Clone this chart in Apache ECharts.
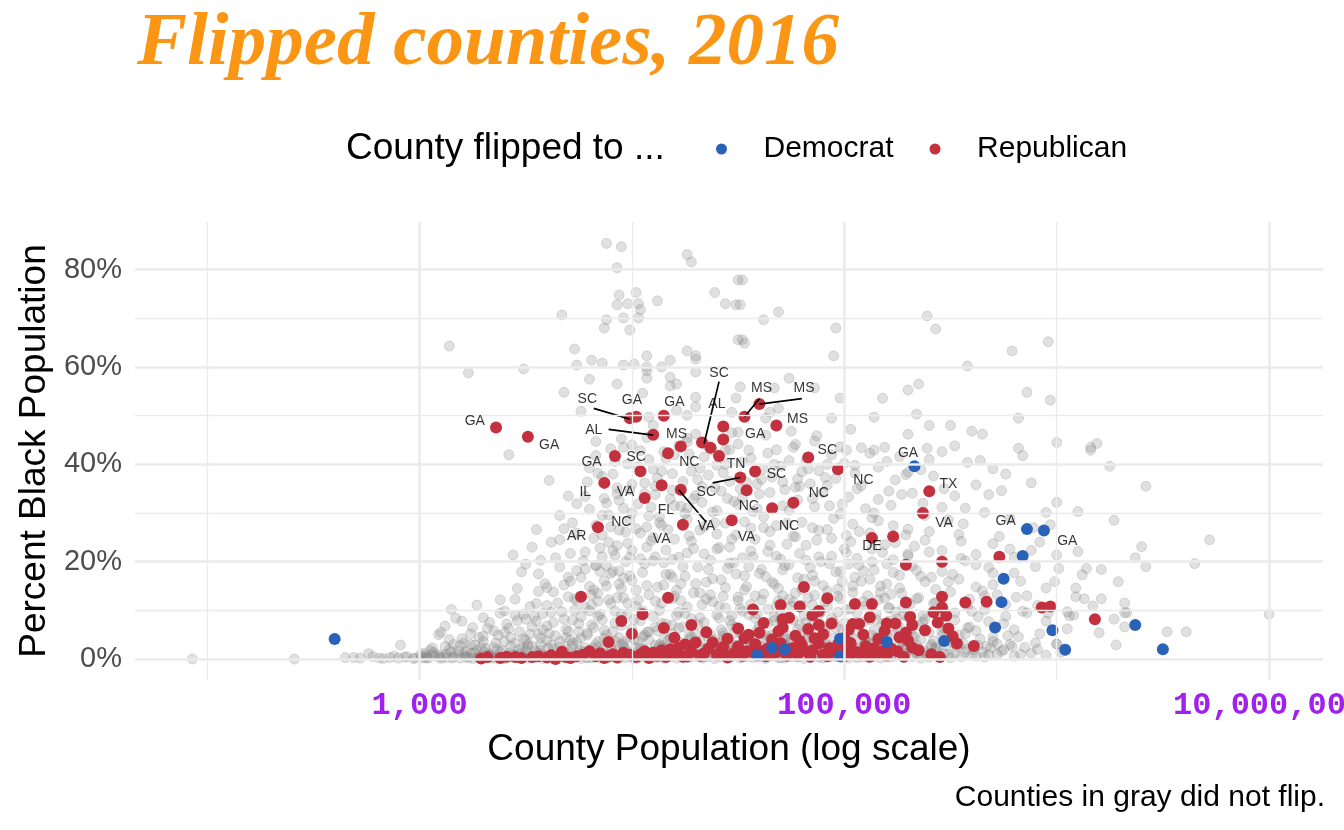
<!DOCTYPE html>
<html><head><meta charset="utf-8">
<script src="https://cdn.jsdelivr.net/npm/echarts@6/dist/echarts.min.js"></script>
<style>html,body{margin:0;padding:0;background:#fff;overflow:hidden}#c{width:1344px;height:830px}</style>
</head><body><div id="c"></div>
<script>
// Each point: [log10(county population), percent Black population]
const grayPts = [
[1.93,0.0],[2.41,0.0],[2.65,0.3],[2.69,0.3],[2.72,0.2],[2.76,1.1],[2.78,0.5],[2.81,0.2],[2.83,0.1],[2.86,0.3],[2.88,0.6],[2.90,0.2],[2.91,2.9],[2.93,0.4],[2.94,0.5],[2.97,0.1],[2.98,0.2],[3.01,0.4],[3.03,0.7],[3.04,0.2],[3.05,1.8],[3.06,2.3],[3.07,0.6],[3.09,5.0],[3.10,0.1],[3.10,5.5],[3.13,0.3],[3.15,10.2],[3.16,0.5],[3.16,3.0],[3.19,0.2],[3.20,4.2],[3.22,0.4],[3.22,1.6],[3.25,0.1],[3.28,0.6],[3.31,0.3],[3.34,0.2],[3.35,5.8],[3.37,0.5],[3.40,0.1],[3.42,42.0],[3.43,0.4],[3.46,0.3],[3.49,0.6],[3.49,9.2],[3.52,0.2],[3.55,0.4],[3.58,0.1],[3.60,6.8],[3.61,0.5],[3.61,36.7],[3.64,0.3],[3.67,0.2],[3.70,0.6],[3.71,21.7],[3.73,0.4],[3.76,0.1],[3.79,0.3],[3.81,11.1],[3.82,0.5],[3.83,19.2],[3.85,0.2],[3.85,9.2],[3.88,0.4],[3.88,19.2],[3.91,0.6],[3.91,18.0],[3.93,12.6],[3.94,0.1],[3.94,15.4],[3.95,9.2],[3.97,0.3],[3.99,17.1],[4.00,0.5],[4.00,22.3],[4.03,0.2],[4.06,0.4],[4.09,0.6],[4.09,24.3],[4.11,21.0],[4.12,0.3],[4.15,0.1],[4.18,0.5],[4.19,16.8],[4.21,0.2],[4.24,0.4],[4.27,0.3],[4.30,0.6],[4.33,0.2],[4.36,0.5],[4.39,0.1],[4.42,0.4],[4.45,0.3],[4.48,0.6],[4.51,0.2],[4.54,0.5],[4.57,0.3],[4.60,0.4],[4.63,0.1],[4.66,0.6],[4.69,0.3],[4.72,0.2],[4.75,0.5],[4.78,0.4],[4.81,0.1],[4.84,0.3],[4.87,0.6],[4.90,0.2],[4.93,0.4],[4.96,0.5],[4.99,0.3],[5.02,0.2],[5.05,0.6],[5.08,0.4],[5.11,0.3],[5.14,0.5],[5.17,0.2],[5.20,0.4],[5.24,0.6],[5.28,0.3],[5.32,0.5],[5.36,0.2],[5.40,0.4],[5.45,0.6],[5.50,0.3],[5.55,0.5],[5.60,0.8],[5.66,0.4],[5.72,1.0],[5.80,0.6],[5.88,1.2],[5.95,0.8],
[3.02,1.2],[3.09,0.9],[3.15,1.5],[3.21,1.1],[3.27,1.8],[3.33,1.0],[3.38,1.4],[3.44,0.9],[3.50,1.7],[3.56,1.2],[3.62,1.0],[3.68,1.6],[3.74,1.3],[3.80,0.9],[3.86,1.8],[3.92,1.1],[3.98,1.5],[4.04,0.9],[4.10,1.7],[4.16,1.2],[4.22,1.0],[4.28,1.9],[4.34,1.3],[4.40,1.0],[4.46,1.6],[4.52,1.2],[4.58,1.9],[4.64,1.1],[4.70,1.5],[4.76,1.0],[4.82,1.8],[4.88,1.3],[4.94,1.1],[5.00,1.7],[5.06,1.2],[5.12,1.9],[5.18,1.4],[5.25,1.1],[5.31,1.8],[5.38,1.3],[5.44,1.6],[5.52,1.2],[5.58,2.0],[5.65,1.5],[5.75,1.9],[5.85,2.4],
[3.12,2.6],[3.24,3.0],[3.35,2.4],[3.45,3.3],[3.53,2.7],[3.60,3.8],[3.66,2.5],[3.72,3.2],[3.78,2.3],[3.84,3.6],[3.90,2.8],[3.96,3.4],[4.02,2.4],[4.08,3.9],[4.14,2.7],[4.20,3.3],[4.26,2.5],[4.32,3.7],[4.38,2.9],[4.44,3.5],[4.50,2.6],[4.56,3.2],[4.62,3.9],[4.68,2.8],[4.74,3.4],[4.80,2.4],[4.86,3.6],[4.92,2.9],[4.98,3.3],[5.04,2.5],[5.10,3.8],[5.16,3.0],[5.22,2.6],[5.28,3.5],[5.34,2.9],[5.42,3.7],[5.48,2.7],[5.56,3.2],[5.63,2.8],[5.70,3.6],[5.78,3.0],[5.90,3.3],[6.00,3.1],
[3.28,4.5],[3.40,5.5],[3.49,4.2],[3.58,6.0],[3.64,4.8],[3.70,5.7],[3.76,4.3],[3.82,6.5],[3.88,5.0],[3.94,4.4],[4.00,6.2],[4.06,4.9],[4.12,5.8],[4.18,4.3],[4.24,6.6],[4.30,5.1],[4.36,4.5],[4.42,6.0],[4.48,5.3],[4.54,4.6],[4.60,6.8],[4.66,5.0],[4.72,4.2],[4.78,6.1],[4.84,5.4],[4.90,4.7],[4.96,6.4],[5.02,5.2],[5.08,4.4],[5.14,6.0],[5.20,5.0],[5.26,6.6],[5.33,4.6],[5.40,5.5],[5.47,6.3],[5.54,4.9],[5.62,5.8],[5.70,4.5],[5.80,6.0],[5.92,5.2],[6.05,6.2],
[3.33,7.5],[3.45,9.0],[3.55,7.8],[3.62,9.6],[3.68,8.2],[3.75,7.3],[3.80,9.9],[3.86,8.1],[3.92,7.4],[3.98,9.3],[4.04,7.9],[4.10,8.8],[4.16,7.2],[4.22,9.6],[4.28,8.3],[4.34,7.5],[4.40,9.1],[4.46,7.9],[4.52,9.8],[4.58,8.4],[4.64,7.3],[4.70,9.4],[4.76,8.0],[4.82,7.5],[4.88,9.2],[4.94,8.4],[5.00,7.4],[5.06,9.5],[5.12,8.1],[5.18,7.3],[5.24,9.7],[5.30,8.5],[5.37,7.6],[5.44,9.3],[5.52,8.0],[5.60,9.8],[5.68,7.7],[5.76,8.8],[5.86,9.5],[5.95,7.8],[6.08,9.0],[6.32,9.5],[6.27,8.2],[7.00,9.2],
[3.38,12.2],[3.60,11.0],[3.70,12.8],[3.78,10.6],[3.84,13.5],[3.90,11.4],[3.96,12.6],[4.02,10.8],[4.08,13.2],[4.14,11.5],[4.20,12.9],[4.26,10.7],[4.32,13.6],[4.38,11.8],[4.44,10.5],[4.50,12.7],[4.56,11.2],[4.62,13.4],[4.68,10.9],[4.74,12.3],[4.80,11.0],[4.86,13.1],[4.92,10.6],[4.98,12.4],[5.04,13.7],[5.10,10.9],[5.16,12.2],[5.22,13.3],[5.28,10.5],[5.35,12.6],[5.42,11.4],[5.50,13.8],[5.58,10.8],[5.66,12.9],[5.76,11.2],[5.86,13.0],[5.99,15.9],[6.09,12.8],[6.13,12.4],[6.21,12.4],[6.17,10.9],[6.05,9.7],[6.06,8.9],[6.20,5.4],[6.28,2.9],[6.00,3.1],[6.52,5.6],[6.61,5.6],[6.32,6.6],[6.33,9.5],[6.32,11.5],
[3.56,17.5],[3.68,15.2],[3.76,16.8],[3.83,19.3],[3.88,15.0],[3.94,18.1],[4.00,16.2],[4.06,19.6],[4.12,14.8],[4.18,17.4],[4.24,19.0],[4.30,15.5],[4.36,18.4],[4.42,16.3],[4.48,19.8],[4.54,14.9],[4.60,17.6],[4.66,15.8],[4.72,19.2],[4.78,16.7],[4.84,18.8],[4.90,15.1],[4.96,17.9],[5.02,19.5],[5.08,16.0],[5.14,18.3],[5.20,15.4],[5.26,17.2],[5.32,19.1],[5.38,15.9],[5.46,18.0],[5.54,16.4],[5.62,19.4],[5.70,15.3],[5.80,17.7],[5.90,19.0],[6.01,18.6],[6.14,18.6],[6.21,18.4],[6.12,17.3],[5.95,14.6],[6.09,14.6],[6.29,15.9],[6.42,19.0],[6.65,19.6],
[3.66,24.5],[3.78,22.0],[3.86,25.5],[3.92,21.3],[3.98,23.8],[4.04,20.6],[4.10,25.0],[4.16,22.4],[4.22,20.9],[4.28,24.2],[4.34,21.6],[4.40,25.7],[4.46,23.0],[4.52,20.8],[4.58,24.6],[4.64,22.1],[4.70,20.5],[4.76,25.3],[4.82,23.4],[4.88,21.0],[4.94,24.8],[5.00,22.6],[5.06,20.7],[5.12,25.9],[5.18,21.9],[5.24,23.9],[5.30,21.2],[5.38,24.4],[5.46,22.3],[5.54,25.6],[5.62,21.5],[5.70,23.7],[5.80,20.9],[5.92,24.0],[5.97,27.6],[6.10,22.1],[6.00,21.4],[6.37,20.8],[6.40,23.1],[6.72,24.5],
[3.72,28.0],[3.80,30.8],[3.90,27.2],[3.96,31.0],[4.02,26.8],[4.08,29.4],[4.14,27.5],[4.20,31.5],[4.26,28.7],[4.32,26.5],[4.38,30.2],[4.44,27.9],[4.50,31.8],[4.56,26.9],[4.62,29.2],[4.68,27.4],[4.74,30.6],[4.80,28.1],[4.86,31.3],[4.92,26.6],[4.98,29.8],[5.04,27.7],[5.10,30.9],[5.16,28.4],[5.22,31.6],[5.30,26.7],[5.38,29.5],[5.46,31.2],[5.56,27.8],[5.66,30.1],[5.78,28.9],[5.95,30.1],[6.10,30.3],[6.27,28.5],[6.00,32.2],
[3.78,33.4],[3.86,37.5],[3.94,32.6],[4.00,35.9],[4.06,34.0],[4.12,37.2],[4.18,32.9],[4.24,36.5],[4.30,33.6],[4.36,37.8],[4.42,34.5],[4.48,32.4],[4.54,36.3],[4.60,33.9],[4.66,37.4],[4.72,34.8],[4.78,32.7],[4.84,36.0],[4.90,34.2],[4.96,37.1],[5.02,33.3],[5.08,35.6],[5.16,32.8],[5.24,36.8],[5.32,34.1],[5.42,37.6],[5.52,33.5],[5.62,35.8],[5.74,34.6],[5.88,36.2],[6.42,35.5],
[3.80,39.3],[3.90,43.2],[3.98,40.1],[4.04,42.8],[4.10,39.0],[4.16,41.2],[4.22,43.8],[4.28,38.6],[4.34,41.5],[4.40,39.8],[4.46,43.0],[4.52,40.5],[4.58,38.3],[4.64,42.3],[4.70,39.6],[4.76,43.5],[4.82,40.9],[4.88,38.7],[4.94,42.0],[5.00,40.2],[5.08,43.4],[5.16,39.4],[5.26,41.6],[5.36,38.9],[5.46,42.6],[5.58,40.4],[5.70,39.1],[5.84,41.8],[6.25,39.6],[6.16,42.9],
[3.88,85.4],[3.95,84.7],[4.26,83.1],[4.28,81.6],[3.93,80.4],[4.50,77.9],[4.52,77.9],[3.94,74.8],[4.02,75.3],[4.12,73.6],[4.39,75.3],[4.44,73.0],[4.49,72.8],[3.93,72.8],[3.98,73.0],[4.03,73.0],[4.04,71.8],[4.03,70.1],[3.96,70.1],[3.88,69.7],[3.87,68.0],[3.99,67.6],[3.67,70.7],[4.51,72.8],[4.62,69.7],[4.69,71.3],[4.96,68.0],[4.95,62.3],[4.52,65.6],[4.53,64.9],[5.39,70.5],[5.43,67.8],[5.79,63.3],[5.58,60.2],[5.96,65.2],[5.97,53.2],[6.00,44.5],[6.16,43.5],[6.19,44.3],[3.14,64.3],[3.23,58.8],[3.49,59.6],[3.73,63.7],[4.26,63.3],[4.30,62.3],[4.30,61.6],[4.07,62.3],[4.50,65.6],[3.81,61.4],[3.86,60.8],[3.74,60.4],[3.96,60.4],[4.01,60.6],[4.07,60.0],[4.07,59.2],[4.14,60.0],[4.18,61.4],[4.30,59.0],[4.07,57.7],[4.18,57.9],[3.80,57.5],[3.93,56.5],[3.68,54.8],[4.05,54.6],[4.18,56.1],[4.21,56.5],[4.30,53.8],[4.30,51.8],[4.26,50.1],[4.21,51.1],[3.76,50.9],[4.49,53.6],[4.08,49.7],[4.10,48.0],[3.83,44.7],[3.96,43.5],[4.47,50.7],[4.50,46.6],[4.30,46.2],[4.26,45.4],[4.44,42.9],[4.74,57.7],[5.35,56.5],[5.30,55.3],[5.86,54.8],[5.18,53.6],[4.98,53.6],[4.67,55.7],[4.86,55.7],[4.51,55.9],[4.69,51.5],[4.65,50.7],[4.63,49.5],[4.94,49.5],[5.14,49.7],[5.34,50.3],[5.40,48.0],[5.50,48.0],[5.60,46.8],[5.65,46.2],[5.82,49.5],[5.03,47.2],[5.30,46.2],[4.77,44.1],[5.39,43.3],[5.19,43.5],[5.14,42.9],[5.01,42.9],[5.82,43.3],
[3.42,6.3],[3.46,7.9],[3.52,5.1],[3.54,8.8],[3.40,3.6],[3.47,2.0],[3.57,3.0],[3.31,2.2],[3.26,2.9],[3.63,13.8],[3.73,10.1],[3.66,18.9],[3.74,25.9],[3.82,14.2],[3.85,22.8],[3.89,29.6],[3.93,35.2],[3.97,26.1],[4.03,31.9],[4.07,27.1],[4.11,33.8],[4.15,19.8],[4.21,14.1],[4.25,29.9],[4.29,22.7],[4.33,32.2],[4.37,13.2],[4.41,22.9],[4.45,33.0],[4.49,17.5],[4.53,28.2],[4.57,21.0],[4.61,36.9],[4.65,26.2],[4.69,12.0],[4.73,23.6],[4.77,35.3],[4.81,16.4],[4.85,27.0],[4.89,20.0],[4.93,31.5],[4.97,14.4],[5.01,25.4],[5.05,38.2],[5.09,18.1],[5.13,29.0],[5.19,12.5],[5.23,20.4],[5.27,33.8],[5.33,23.2],[5.41,16.8],[5.49,28.6],[5.57,20.2],[5.65,14.0],[5.73,25.2],[5.83,16.0],[5.91,11.0],[4.05,4.6],[4.13,3.0],[4.19,7.0],[4.27,4.0],[4.35,2.2],[4.43,5.4],[4.47,8.9],[4.55,2.9],[4.61,5.2],[4.67,8.7],[4.71,3.0],[4.79,5.0],[4.85,8.1],[4.91,3.2],[4.99,6.1],[5.07,2.2],[5.13,4.9],[5.21,7.8],[5.29,3.0],[5.35,6.9],[5.43,2.1],[5.51,4.2],[5.59,6.6],[5.67,2.6],[5.77,4.8],
[3.005,0.9],[3.035,0.3],[3.065,1.4],[3.095,0.5],[3.125,1.0],[3.155,0.2],[3.185,1.6],[3.215,0.6],[3.245,1.2],[3.275,0.3],[3.305,1.5],[3.335,0.7],[3.365,1.9],[3.395,0.4],[3.425,1.3],[3.455,0.8],[3.485,2.1],[3.515,0.5],[3.545,1.6],[3.575,0.9],[3.605,2.2],[3.635,0.4],[3.665,1.1],[3.695,2.0],[3.725,0.7],[3.755,1.7],[3.785,0.3],[3.815,2.3],[3.845,1.0],[3.875,0.5],[3.905,1.9],[3.935,0.8],[3.965,2.4],[3.995,0.6],[4.025,1.4],[4.055,2.1],[4.085,0.4],[4.115,1.6],[4.145,2.2],[4.175,0.7],[4.205,1.3],[4.235,2.4],[4.265,0.9],[4.295,1.7],[4.325,0.5],[4.355,2.3],[4.385,1.1],[4.415,1.8],[4.445,0.6],[4.475,2.2],[4.505,1.4],[4.535,0.8],[4.565,2.5],[4.595,1.0],[4.625,1.7],[4.655,2.3],[4.685,0.7],[4.715,1.3],[4.745,2.1],[4.775,0.5],[4.805,2.4],[4.835,1.2],[4.865,0.9],[4.895,2.0],[4.925,1.5],[4.955,0.7],[4.985,2.2],[5.015,1.0],[5.045,1.8],[5.075,2.5],[5.105,0.8],[5.135,1.4],[5.165,2.3],[5.195,0.6],[5.225,1.9],[5.255,2.7],[5.285,1.0],[5.315,2.2],[5.345,0.9],[5.375,1.7],[5.41,2.6],[5.47,1.1],[5.53,2.5],[5.57,1.4],[5.62,0.6],[5.69,2.3],[5.74,1.6],[5.83,1.0],[5.91,2.0],[6.02,1.4],
[3.14,4.0],[3.19,2.8],[3.30,3.6],[3.37,4.9],[3.43,2.7],[3.50,3.9],[3.56,5.1],[3.62,2.9],[3.69,4.4],[3.74,3.5],[3.79,5.3],[3.83,3.0],[3.87,4.3],[3.91,5.6],[3.95,3.1],[3.99,4.6],[4.03,3.6],[4.07,5.5],[4.11,2.9],[4.15,4.1],[4.19,5.2],[4.23,3.4],[4.27,4.8],[4.31,2.8],[4.35,5.7],[4.39,3.9],[4.43,4.7],[4.47,3.1],[4.51,5.4],[4.55,4.0],[4.59,2.9],[4.63,4.9],[4.67,3.6],[4.71,5.6],[4.75,4.2],[4.79,3.0],[4.83,5.0],[4.87,3.8],[4.91,5.8],[4.95,4.3],[4.99,3.0],[5.03,4.6],[5.07,5.6],[5.11,3.4],[5.15,4.4],[5.19,2.9],[5.23,4.9],[5.27,3.7],[5.31,5.9],[5.36,4.0],[5.41,3.0],[5.46,4.8],[5.51,3.3],[5.57,5.2],[5.64,4.1],[5.72,3.1],[5.82,4.6],
[3.81,7.0],[3.84,11.9],[3.87,16.1],[3.89,24.0],[3.92,9.8],[3.95,14.5],[3.97,20.0],[3.99,28.5],[4.01,8.1],[4.03,12.1],[4.05,17.8],[4.07,23.0],[4.09,31.2],[4.11,6.6],[4.13,10.0],[4.15,15.2],[4.17,26.6],[4.19,20.5],[4.21,9.0],[4.23,12.0],[4.25,17.0],[4.27,25.3],[4.29,32.9],[4.31,7.1],[4.33,11.2],[4.35,15.8],[4.37,20.3],[4.39,28.0],[4.41,8.4],[4.43,12.9],[4.45,18.6],[4.47,24.6],[4.49,6.6],[4.51,10.4],[4.53,14.2],[4.55,19.0],[4.57,30.3],[4.59,9.3],[4.61,12.1],[4.63,16.9],[4.65,23.4],[4.67,7.9],[4.69,14.5],[4.71,18.3],[4.73,27.9],[4.75,10.8],[4.77,13.6],[4.79,21.7],[4.81,9.0],[4.83,12.6],[4.85,17.2],[4.87,24.4],[4.89,7.1],[4.91,11.8],[4.93,19.6],[4.95,28.9],[4.97,9.6],[4.99,15.9],[5.01,21.9],[5.03,10.3],[5.05,16.8],[5.07,26.2],[5.09,7.6],[5.11,13.0],[5.13,20.0],[5.15,9.2],[5.17,15.0],[5.19,23.5],[5.21,10.6],[5.23,17.8],[5.25,8.3],[5.27,13.5],[5.29,25.5],[5.31,11.3],[5.34,18.2],[5.37,8.9],[5.40,22.0],[5.43,14.3],[5.47,10.1],[5.51,17.4],[5.55,24.2],[5.59,12.3],[5.63,8.7],[5.68,18.8],[5.72,13.2],[5.78,22.6],[5.84,9.8],[5.89,27.0],[3.86,29.5],[3.93,33.9],[4.00,30.0],[4.06,36.2],[4.13,29.2],[4.19,34.7],[4.26,31.0],[4.33,35.4],[4.40,30.5],[4.46,36.5],[4.52,33.1],[4.59,30.9],[4.65,34.2],[4.71,31.5],[4.78,37.0],[4.85,33.0],[4.92,35.7],[4.99,31.8],[5.06,35.0],[5.14,30.0],[5.21,34.5],[5.29,37.9],[5.37,32.0],[5.47,35.0],[5.57,31.0],[5.68,33.8],
[3.84,38.2],[3.92,40.6],[4.00,44.0],[4.08,41.0],[4.14,38.6],[4.20,42.0],[4.26,44.6],[4.32,39.2],[4.38,42.9],[4.44,40.0],[4.50,44.2],[4.56,41.3],[4.62,39.0],[4.68,43.0],[4.74,40.8],[4.80,38.5],[4.86,44.8],[4.92,40.0],[4.98,43.6],[5.05,39.8],[5.12,42.3],[5.20,40.6],[5.30,38.4],[5.40,41.0],[5.52,43.8],[5.64,40.8],[5.76,38.0],
[3.52,10.8],[3.56,13.9],[3.59,15.5],[3.64,20.8],[3.68,26.8],[3.71,16.0],[3.74,12.0],[3.77,20.2],[3.80,14.9],[3.82,24.8],[3.85,18.0],[3.88,32.0],[3.91,22.3],[3.94,26.5],[3.46,14.5],[3.50,19.5],[3.40,9.9],[3.30,8.5],[3.25,6.5],[3.20,7.8],
[3.02,0.2],[3.06,1.0],[3.11,0.4],[3.14,1.9],[3.18,0.8],[3.23,0.3],[3.26,1.3],[3.29,2.4],[3.32,0.9],[3.36,0.2],[3.39,1.7],[3.42,0.6],[3.47,1.1],[3.51,2.6],[3.54,0.3],[3.57,1.8],[3.59,0.7],[3.63,2.0],[3.66,0.5],[3.69,1.2],[3.72,2.7],[3.75,0.8],[3.77,1.5],[3.81,0.2],[3.84,2.5],[3.87,1.1],[3.90,0.4],[3.93,1.6],[3.96,2.8],[3.99,1.1],[4.01,0.1],[4.04,2.3],[4.07,1.0],[4.10,0.3],[4.13,2.6],[4.16,1.4],[4.19,0.8],[4.22,1.9],[4.25,0.2],[4.28,2.8],[4.31,1.0],[4.34,0.4],[4.37,1.5],[4.40,2.6],[4.43,0.8],[4.46,1.3],[4.49,2.9],[4.52,0.4],[4.55,1.6],[4.58,0.9],[4.61,2.7],[4.64,0.6],[4.67,1.9],[4.70,0.2],[4.73,2.6],[4.76,1.4],[4.79,0.7],[4.82,2.9],[4.85,1.5],[4.88,0.4],[4.91,2.5],[4.94,1.9],[4.97,0.8],[5.00,2.8],[5.03,1.3],[5.06,0.3],[5.09,1.7],[5.12,2.9],[5.15,0.9],[5.19,2.0],[5.22,0.4],[5.26,1.5],[5.30,2.7],[5.34,1.2],[5.39,0.7],[5.43,2.3],[5.49,1.0],[5.54,2.9],[5.61,1.9],[5.68,0.9],[5.79,2.6],
[3.76,8.7],[3.78,18.5],[3.79,4.9],[3.81,13.2],[3.83,27.5],[3.84,8.8],[3.86,21.0],[3.87,5.9],[3.89,12.2],[3.90,17.6],[3.92,3.7],[3.93,23.3],[3.95,6.9],[3.96,16.6],[3.98,11.5],[3.99,20.9],[4.01,4.0],[4.02,14.2],[4.04,25.9],[4.05,9.9],[4.07,15.1],[4.08,5.6],[4.10,20.2],[4.11,11.9],[4.13,28.0],[4.14,7.3],[4.16,17.4],[4.17,3.8],[4.19,12.4],[4.20,24.6],[4.22,6.4],[4.23,15.5],[4.25,9.4],[4.26,21.8],[4.28,4.6],[4.29,13.6],[4.31,18.9],[4.32,8.5],[4.34,27.2],[4.35,12.3],[4.37,5.0],[4.38,16.5],[4.40,22.6],[4.41,10.9],[4.43,3.9],[4.44,14.7],[4.46,19.7],[4.47,7.0],[4.49,25.5],[4.50,12.0],[4.52,4.9],[4.53,17.1],[4.55,9.1],[4.56,22.2],[4.58,13.0],[4.59,6.0],[4.61,18.4],[4.62,27.0],[4.64,10.2],[4.65,4.3],[4.67,15.4],[4.68,21.1],[4.70,8.0],[4.71,13.0],[4.73,4.8],[4.74,19.4],[4.76,11.7],[4.77,25.1],[4.79,7.1],[4.80,14.3],[4.82,20.3],[4.83,4.4],[4.85,11.1],[4.86,16.0],[4.88,26.4],[4.89,9.6],[4.91,5.3],[4.92,14.0],[4.94,21.1],[4.95,7.6],[4.97,12.9],[4.98,18.0],[5.00,4.6],[5.01,10.2],[5.03,24.1],[5.04,15.0],[5.06,7.4],[5.07,19.3],[5.09,11.8],[5.10,4.0],[5.12,16.4],[5.13,22.6],[5.15,8.1],[5.17,13.7],[5.18,5.0],[5.20,19.6],[5.21,10.4],[5.23,27.4],[5.25,6.2],[5.26,14.6],[5.28,9.1],[5.30,21.6],[5.32,4.9],[5.34,12.4],[5.36,17.0],[5.38,8.2],[5.40,26.2],[5.43,11.6],[5.46,5.7],[5.49,15.9],[5.52,9.5],[5.55,20.7],[5.58,6.4],[5.62,14.8],[5.66,10.1],[5.70,17.7],[5.75,7.3],[5.81,12.7],[5.88,22.3],[5.96,9.4],
[3.12,6.8],[3.17,8.4],[3.21,3.3],[3.24,5.2],[3.27,11.1],[3.30,4.7],[3.32,6.3],[3.36,3.3],[3.38,9.4],[3.41,7.2],[3.43,4.4],[3.45,12.3],[3.47,5.6],[3.50,8.2],[3.51,3.0],[3.53,6.7],[3.55,11.4],[3.57,4.3],[3.58,9.3],[3.60,14.7],[3.61,5.3],[3.63,7.5],[3.65,11.5],[3.66,3.6],[3.67,9.7],[3.69,6.1],[3.70,16.8],[3.71,3.9],[3.72,8.0],[3.73,12.4],[3.74,18.2],[3.75,5.6],[3.48,17.9],[3.53,23.0],[3.57,20.3],[3.62,24.0],[3.66,29.5],[3.70,33.5],[3.55,26.6],[3.44,21.4],
[3.74,31.9],[3.79,36.4],[3.83,41.8],[3.87,33.0],[3.91,38.0],[3.95,45.2],[3.99,34.8],[4.03,39.5],[4.07,45.5],[4.11,35.5],[4.15,42.6],[4.19,38.1],[4.23,31.4],[4.27,42.1],[4.31,36.9],[4.35,44.0],[4.39,35.2],[4.43,38.3],[4.47,46.5],[4.51,35.0],[4.55,42.9],[4.59,36.0],[4.63,46.0],[4.67,40.0],[4.71,36.4],[4.75,46.8],[4.79,35.5],[4.83,39.1],[4.87,45.9],[4.91,37.3]
];
const redPts = [
[3.36,47.6],[3.51,45.7],[3.99,49.5],[4.02,49.8],[4.15,50.0],[4.10,46.1],[4.23,43.7],[4.17,42.3],[3.92,41.7],[4.04,38.6],[3.87,36.2],[4.06,33.1],[4.14,35.7],[4.23,34.8],[3.84,27.1],[4.24,27.6],[4.33,44.5],[4.37,43.4],[4.43,47.8],[4.43,45.1],[4.41,41.7],[4.51,37.3],[4.58,38.6],[4.54,34.7],[4.47,28.5],[4.53,49.8],[4.60,52.4],[4.68,48.0],[4.83,41.4],[4.97,39.0],[4.66,31.0],[4.76,32.1],[5.40,34.5],[5.37,30.0],[5.13,24.9],[5.23,25.2],[5.73,21.0],[5.46,20.0],[5.29,19.4],[4.81,14.8],[4.70,11.1],[5.05,11.3],[5.13,11.3],[5.29,11.6],[5.46,12.8],[5.57,11.6],[5.67,11.8],[5.93,10.6],[5.97,10.8],[6.18,8.2],[3.76,12.8],[4.17,12.6],[4.05,9.2],[3.89,3.5],[4.20,4.4],[4.88,9.9],[4.88,7.0],[4.71,8.2],[4.71,6.5],[5.31,8.7],[5.32,7.0],[5.46,10.6],[5.48,8.9],[5.44,7.5],[5.20,7.3],[5.24,7.3],[5.04,7.2],[5.07,7.2],[5.29,5.4],[5.51,4.7],[5.61,2.7],[5.35,1.8],
[3.29,0.1],[3.38,0.2],[3.45,0.4],[3.53,0.4],[3.60,0.3],[3.64,0.0],[3.67,1.5],[3.71,0.2],[3.74,0.6],[3.80,1.6],[3.83,0.6],[3.87,0.2],[3.91,1.0],[3.96,1.3],[4.04,1.0],[4.08,0.2],[4.10,1.3],[4.18,2.0],[4.25,3.0],[4.26,0.6],[4.30,3.4],[4.34,1.2],[4.38,3.4],[4.43,2.5],[4.46,0.6],[4.53,4.3],[4.54,1.6],[4.60,5.4],[4.61,1.6],[4.66,1.0],[4.76,2.3],[4.79,3.7],[4.82,1.6],[4.86,4.3],[4.93,2.3],[4.92,0.6],[5.03,3.3],[5.03,1.0],[5.08,1.0],[5.10,2.7],[5.18,1.6],[5.22,2.1],[5.20,0.8],
[3.32,0.4],[3.41,0.5],[3.48,0.2],[3.56,0.6],[3.62,0.8],[3.69,0.4],[3.77,0.9],[3.85,1.2],[3.89,0.6],[3.93,0.3],[3.99,0.9],[4.02,0.4],[4.06,1.6],[4.12,0.7],[4.14,1.8],[4.16,0.4],[4.20,1.1],[4.22,2.4],[4.24,0.5],[4.28,1.5],[4.32,0.7],[4.36,2.1],[4.40,0.9],[4.42,1.7],[4.45,0.3],[4.48,1.2],[4.50,2.6],[4.52,0.7],[4.56,1.5],[4.58,3.1],[4.63,0.6],[4.64,2.2],[4.68,1.4],[4.70,3.3],[4.73,0.7],[4.74,2.0],[4.78,1.0],[4.80,2.9],[4.84,0.5],[4.85,1.8],[4.88,3.2],[4.90,0.9],[4.95,1.6],[4.97,3.0],[5.00,0.6],[5.01,2.2],[5.06,1.4],[5.12,0.5],[5.14,2.2],[5.16,1.2],[5.25,1.6],[5.28,0.5],[5.32,2.4],[5.41,1.0],[5.45,0.4],
[4.45,4.2],[4.50,6.3],[4.55,5.0],[4.62,7.4],[4.66,4.0],[4.69,5.7],[4.74,8.5],[4.77,4.8],[4.83,6.2],[4.85,9.0],[4.90,5.1],[4.94,7.3],[5.00,4.3],[5.02,6.0],[5.09,5.0],[5.12,8.6],[5.16,4.1],[5.19,5.8],[5.26,4.5],[5.30,3.8],[5.38,5.9],[5.42,9.6],[5.49,6.3],[5.53,3.2],[4.35,5.5],[4.28,7.0],[4.15,6.4],[4.00,5.2],[3.95,7.8],[4.57,10.2],[4.79,10.8],[4.92,12.5]
];
const bluePts = [
[2.60,4.1],[5.33,39.6],[5.86,26.7],[5.84,21.2],[5.75,16.5],[5.74,11.7],[5.71,6.5],[5.47,3.7],[5.98,5.9],[6.04,1.9],[6.37,7.0],[6.50,2.0],[5.94,26.4],[4.98,4.2],[4.98,0.6],[5.20,3.5],[4.59,0.8],[4.66,2.3],[4.72,2.0]
];
// state labels (ggrepel placements): text and [log10 pop, pct]
const labelText = ['GA','GA','SC','GA','GA','SC','AL','MS','MS','AL','MS','GA','MS','GA','SC','NC','TN','SC','SC','IL','VA','SC','FL','VA','NC','NC','NC','NC','VA','VA','AR','NC','GA','TX','VA','DE','GA','GA'];
const labelPos = [[3.26,48.9],[3.61,43.9],[3.79,53.5],[4.00,53.3],[4.20,52.8],[4.41,58.7],[4.40,52.3],[4.61,55.6],[4.81,55.6],[3.82,47.0],[4.21,46.3],[4.58,46.2],[4.78,49.2],[3.81,40.5],[4.02,41.5],[4.27,40.4],[4.49,40.1],[4.92,42.9],[4.68,37.9],[3.78,34.3],[3.97,34.3],[4.35,34.3],[4.16,30.5],[4.35,27.4],[4.55,31.4],[4.88,34.0],[3.95,28.1],[4.74,27.3],[4.14,24.7],[4.54,25.0],[3.74,25.2],[5.09,36.7],[5.30,42.3],[5.49,36.0],[5.47,28.0],[5.13,23.1],[5.76,28.3],[6.05,24.3]];
const leaderLines = [
[[3.82,51.5],[3.99,49.3]],[[3.89,47.2],[4.10,46.0]],[[4.41,57.0],[4.34,44.3]],[[4.60,53.5],[4.53,49.8]],[[4.80,53.5],[4.60,52.4]],[[4.38,36.2],[4.51,37.3]],[[4.35,28.1],[4.22,34.8]]
];
const xTicks = [3,5,7];            // log10 of 1,000 / 100,000 / 10,000,000
const xMinorGrid = [2,4,6];
const yTicks = [0,20,40,60,80];
const yMinorGrid = [10,30,50,70];

const GRID = '#ebebeb';
const fmtPop = v => Math.round(Math.pow(10, v)).toLocaleString('en-US');

const gridLines = [];
xTicks.forEach(v => gridLines.push({xAxis: v, lineStyle: {width: 2.6, color: GRID}}));
xMinorGrid.forEach(v => gridLines.push({xAxis: v, lineStyle: {width: 1.3, color: GRID}}));
yTicks.forEach(v => gridLines.push({yAxis: v, lineStyle: {width: 2.6, color: GRID}}));
yMinorGrid.forEach(v => gridLines.push({yAxis: v, lineStyle: {width: 1.3, color: GRID}}));

const chart = echarts.init(document.getElementById('c'), null, {renderer: 'canvas'});
chart.setOption({
  animation: false,
  backgroundColor: '#fff',
  title: {
    text: 'Flipped counties, 2016', left: 132, top: 2,
    textStyle: {fontFamily: 'Liberation Serif', fontStyle: 'italic', fontWeight: 'bold', fontSize: 75, color: '#FA9614'}
  },
  legend: {
    data: ['Democrat', 'Republican'], left: 711, top: 129, icon: 'circle',
    itemWidth: 74, itemHeight: 11, itemGap: 36, selectedMode: false,
    textStyle: {fontFamily: 'Liberation Sans', fontSize: 30, color: '#000'}
  },
  graphic: [
    {type: 'text', left: 346, top: 130, style: {text: 'County flipped to ...', font: '37px "Liberation Sans"', fill: '#000'}},
    {type: 'text', right: 19, top: 783, style: {text: 'Counties in gray did not flip.', font: '30px "Liberation Sans"', fill: '#000'}}
  ],
  grid: {left: 135, right: 21, top: 222, bottom: 150, containLabel: false, outerBoundsMode: 'none'},
  xAxis: {
    type: 'value', min: 1.66, max: 7.254,
    name: 'County Population (log scale)', nameLocation: 'middle', nameGap: 51,
    nameTextStyle: {fontFamily: 'Liberation Sans', fontSize: 37, color: '#000'},
    axisLine: {show: false}, axisTick: {show: false}, splitLine: {show: false},
    axisLabel: {customValues: xTicks, formatter: fmtPop, margin: 10,
      fontFamily: 'Liberation Mono', fontWeight: 'bold', fontSize: 32, color: '#A020F0'}
  },
  yAxis: {
    type: 'value', min: -4.3, max: 89.8,
    name: 'Percent Black Population', nameLocation: 'middle', nameGap: 81, nameRotate: 90,
    nameTextStyle: {fontFamily: 'Liberation Sans', fontSize: 37, color: '#000'},
    axisLine: {show: false}, axisTick: {show: false}, splitLine: {show: false},
    axisLabel: {customValues: yTicks, formatter: v => v + '%', margin: 13,
      fontFamily: 'Liberation Sans', fontSize: 29, color: '#4d4d4d'}
  },
  series: [
    {type: 'scatter', name: 'grid', data: [], z: 0, silent: true,
      markLine: {silent: true, symbol: ['none','none'], label: {show: false}, lineStyle: {type: 'solid'}, data: gridLines}},
    {type: 'scatter', name: 'Did not flip', data: grayPts, symbolSize: 10, z: 2, silent: true,
      itemStyle: {color: 'rgba(127,127,127,0.3)', borderColor: 'rgba(127,127,127,0.3)', borderWidth: 1}},
    {type: 'scatter', name: 'Republican', data: redPts, symbolSize: 12, z: 3, silent: true,
      itemStyle: {color: '#C3313E', opacity: 1}},
    {type: 'scatter', name: 'Democrat', data: bluePts, symbolSize: 12, z: 3, silent: true,
      itemStyle: {color: '#2A62B8', opacity: 1}},
    {type: 'lines', coordinateSystem: 'cartesian2d', z: 4, silent: true,
      lineStyle: {color: '#000', width: 1.7, opacity: 1},
      data: leaderLines.map(c => ({coords: c}))},
    {type: 'scatter', name: 'labels', z: 5, silent: true, symbolSize: 0,
      data: labelText.map((t, i) => ({name: t, value: labelPos[i]})),
      label: {show: true, position: 'inside', formatter: p => p.name,
        fontFamily: 'Liberation Sans', fontSize: 14, color: '#000'}}
  ]
});
</script></body></html>
